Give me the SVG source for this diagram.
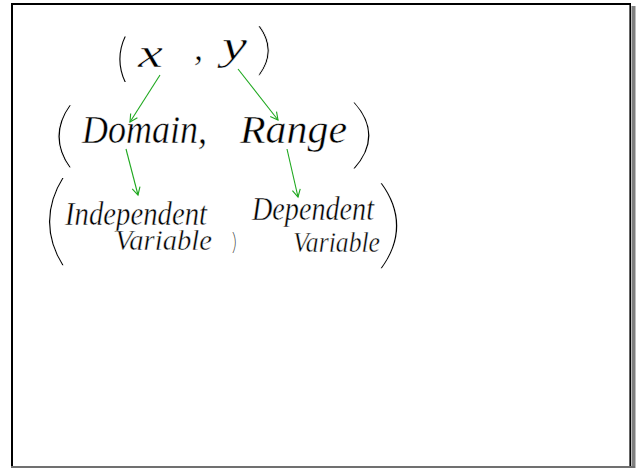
<svg xmlns="http://www.w3.org/2000/svg" width="640" height="468" viewBox="0 0 640 468">
<style>
.hw{font-family:"Liberation Serif","DejaVu Serif",serif;font-style:italic;fill:#000;stroke:#fff;stroke-width:0.45}
.par{font-family:Inter,"Open Sans","Noto Sans",sans-serif;font-weight:100;fill:#000;stroke:#fff}
.conn{stroke:#1ea81e;stroke-width:1.1;fill:none}
</style>
<defs>
<marker id="ah" markerUnits="userSpaceOnUse" markerWidth="12" markerHeight="12" refX="9" refY="5" orient="auto">
<path d="M1.5,1 L9,5 L1.5,9" fill="none" stroke="#1ea81e" stroke-width="1.1"/>
</marker>
</defs>
<rect x="0" y="0" width="640" height="468" fill="#fff"/>
<g id="frame">
<line x1="633.5" y1="6" x2="633.5" y2="468" stroke="#808080" stroke-width="4"/>
<line x1="11" y1="467" x2="635" y2="467" stroke="#707070" stroke-width="2"/>
<line x1="12" y1="3" x2="12" y2="466" stroke="#000" stroke-width="2"/>
<line x1="11" y1="4" x2="631" y2="4" stroke="#000" stroke-width="2"/>
<line x1="630.2" y1="3" x2="630.2" y2="466" stroke="#000" stroke-width="1.6"/>
</g>
<g id="node-xy">
<text class="par" x="113.5" y="75" font-size="50" stroke-width="0">(</text>
<text class="hw" x="138" y="67" font-size="40" textLength="25" lengthAdjust="spacingAndGlyphs">x</text>
<text class="hw" x="194" y="60" font-size="36">,</text>
<text class="hw" x="222" y="59" font-size="40" textLength="25" lengthAdjust="spacingAndGlyphs">y</text>
<text class="par" x="0" y="0" font-size="54" stroke-width="0.5" transform="translate(252,68) scale(1.6,1)">)</text>
</g>
<g id="node-domain-range">
<text class="par" x="0" y="0" font-size="60" stroke-width="0.62" transform="translate(45.5,158) scale(1.77,1.15)">(</text>
<text class="hw" x="82" y="143" font-size="40" textLength="125" lengthAdjust="spacingAndGlyphs">Domain,</text>
<text class="hw" x="240" y="143" font-size="40" textLength="107" lengthAdjust="spacingAndGlyphs">Range</text>
<text class="par" x="0" y="0" font-size="60" stroke-width="0.84" transform="translate(342,159) scale(2.38,1.23)">)</text>
</g>
<g id="node-variables">
<text class="par" x="0" y="0" font-size="80" stroke-width="1.1" transform="translate(33,253) scale(1.62,1.22)">(</text>
<text class="hw" x="65" y="225" font-size="34" textLength="142" lengthAdjust="spacingAndGlyphs">Independent</text>
<text class="hw" x="115" y="250" font-size="30" textLength="97" lengthAdjust="spacingAndGlyphs">Variable</text>
<text class="par" x="231" y="250" font-size="23" font-weight="400" stroke-width="0">)</text>
<text class="hw" x="252" y="220" font-size="34" textLength="122" lengthAdjust="spacingAndGlyphs">Dependent</text>
<text class="hw" x="293" y="252" font-size="30" textLength="87" lengthAdjust="spacingAndGlyphs">Variable</text>
<text class="par" x="0" y="0" font-size="80" stroke-width="1.17" transform="translate(368.5,256) scale(1.875,1.19)">)</text>
</g>
<g id="connectors">
<line class="conn" x1="160" y1="75" x2="130" y2="122" marker-end="url(#ah)"/>
<line class="conn" x1="238" y1="69" x2="278" y2="120" marker-end="url(#ah)"/>
<line class="conn" x1="126" y1="149" x2="138" y2="195" marker-end="url(#ah)"/>
<line class="conn" x1="287" y1="149" x2="298" y2="197" marker-end="url(#ah)"/>
</g>
</svg>
